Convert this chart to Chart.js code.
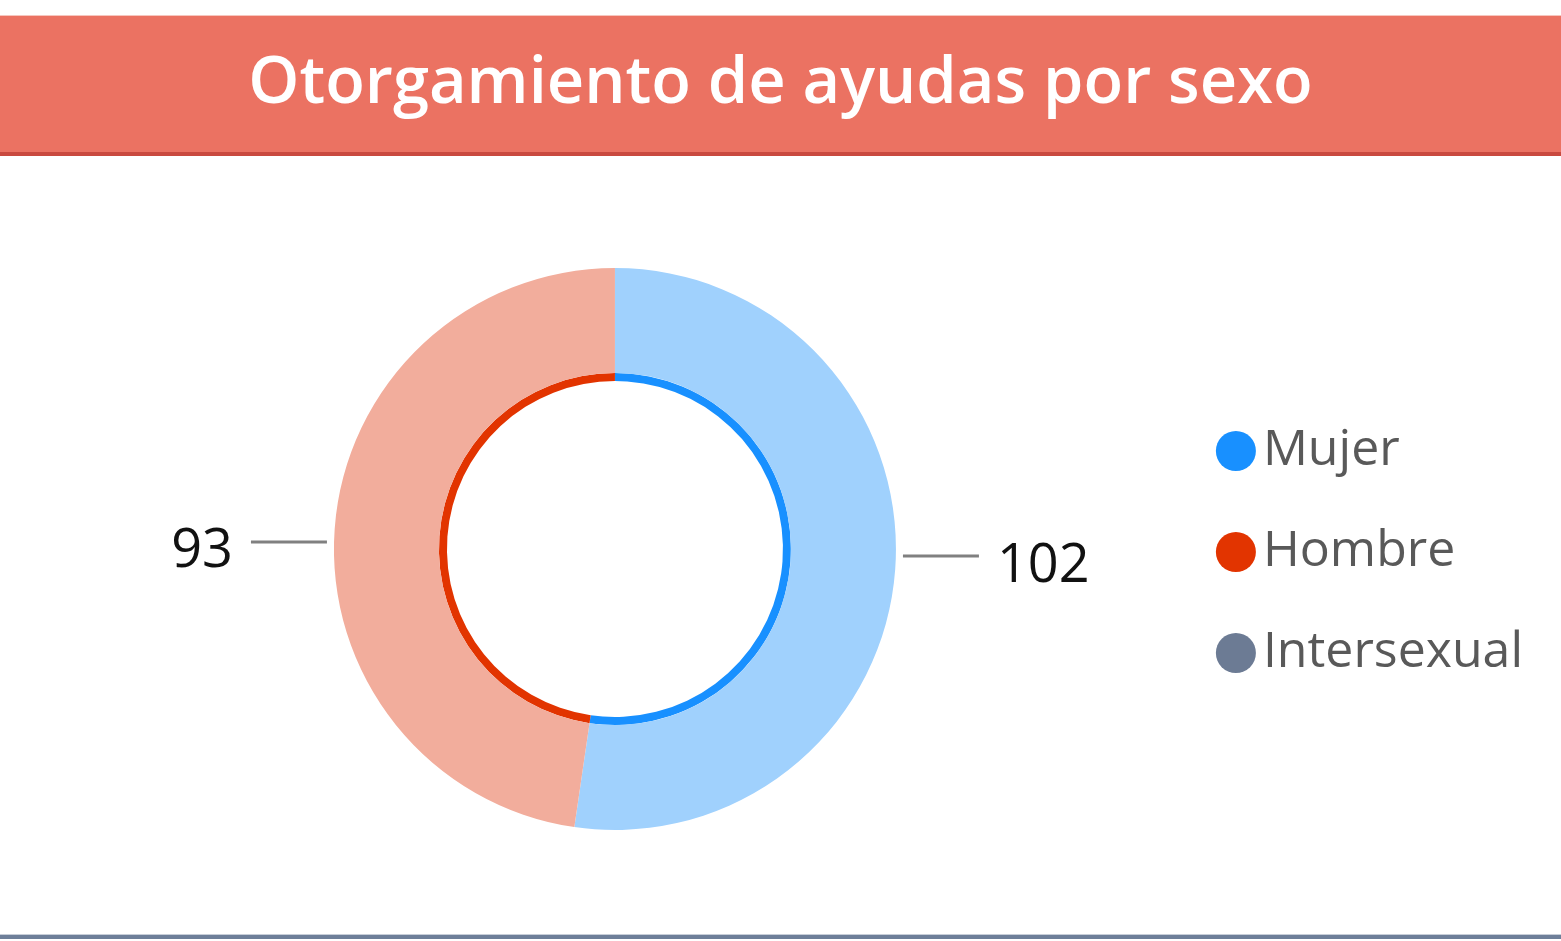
<!DOCTYPE html>
<html>
<head>
<meta charset="utf-8">
<script src="https://cdn.jsdelivr.net/npm/chart.js@4/dist/chart.umd.min.js"></script>
<style>
  html, body { margin: 0; padding: 0; background: #fff; width: 1561px; height: 941px; overflow: hidden; position: relative; }
  #header {
    position: absolute; left: 0; top: 15px; width: 1561px; height: 136px;
    background: #EB7262; border-bottom: 4px solid #C94A3F; border-top: 1px solid #F6C6BE;
    box-sizing: content-box;
    color: #fff; text-align: center;
    font-family: "Open Sans", "Noto Sans", sans-serif; font-weight: 600; font-size: 65px;
    line-height: 124px;
  }
  #wrap { position: absolute; left: 0; top: 160px; width: 1561px; height: 778px; }
  #bottomline { position: absolute; left: 0; top: 934px; width: 1561px; height: 1px; background: #C7CED8; }
  #bottomline2 { position: absolute; left: 0; top: 935px; width: 1561px; height: 4px; background: #6E7F99; }
</style>
</head>
<body>
<div id="header">Otorgamiento de ayudas por sexo</div>
<div id="wrap"><canvas id="c"></canvas></div>
<div id="bottomline"></div>
<div id="bottomline2"></div>
<script>
const categories = ['Mujer', 'Hombre', 'Intersexual'];
const values = [102, 93, 0];
const lightColors = ['#A0D1FD', '#F2AD9C', '#C4CBD6'];
const strongColors = ['#1890FF', '#E23400', '#6C7B94'];

const outerR = 281, ringR = 176, innerR = 168;

const labelPlugin = {
  id: 'sideLabels',
  afterDatasetsDraw(chart) {
    const ctx = chart.ctx;
    const meta = chart.getDatasetMeta(0);
    meta.data.forEach((arc, i) => {
      const v = values[i];
      if (!v) return;
      const p = arc.getProps(['x', 'y', 'startAngle', 'endAngle', 'outerRadius'], true);
      const mid = (p.startAngle + p.endAngle) / 2;
      const right = Math.cos(mid) >= 0;
      const ly = p.y + Math.sin(mid) * p.outerRadius * 0.35;
      const x0 = right ? p.x + p.outerRadius + 7 : p.x - p.outerRadius - 7;
      const x1 = right ? x0 + 76 : x0 - 76;
      ctx.save();
      ctx.strokeStyle = '#808080';
      ctx.lineWidth = 3;
      ctx.beginPath();
      ctx.moveTo(x0, ly);
      ctx.lineTo(x1, ly);
      ctx.stroke();
      ctx.fillStyle = '#111';
      ctx.font = '54px "Open Sans", "Noto Sans", sans-serif';
      ctx.textBaseline = 'alphabetic';
      ctx.textAlign = right ? 'left' : 'right';
      ctx.fillText(String(v), right ? x1 + 18 : x1 - 18, ly + 25.5);
      ctx.restore();
    });
  }
};

new Chart(document.getElementById('c'), {
  type: 'doughnut',
  data: {
    labels: categories,
    datasets: [
      { data: values, backgroundColor: lightColors, borderWidth: 0, weight: outerR - ringR },
      { data: values, backgroundColor: strongColors, borderWidth: 0, weight: ringR - innerR }
    ]
  },
  options: {
    responsive: true,
    maintainAspectRatio: false,
    animation: false,
    events: [],
    radius: outerR,
    cutout: (innerR / outerR * 100) + '%',
    layout: { padding: { left: 47, right: 28, top: 0, bottom: 0 } },
    plugins: {
      tooltip: { enabled: false },
      legend: {
        position: 'right',
        align: 'center',
        title: { display: true, text: ' ', font: { size: 5 }, padding: 0 },
        labels: {
          usePointStyle: true,
          boxWidth: 4,
          boxHeight: 28.3,
          padding: 51,
          color: '#595959',
          font: { family: '"Open Sans", "Noto Sans", sans-serif', size: 50 },
          generateLabels(chart) {
            return categories.map((t, i) => ({
              text: t,
              fillStyle: strongColors[i],
              strokeStyle: strongColors[i],
              lineWidth: 0,
              pointStyle: 'circle',
              hidden: false,
              fontColor: '#595959',
              index: i
            }));
          }
        }
      }
    }
  },
  plugins: [labelPlugin]
});
</script>
</body>
</html>
